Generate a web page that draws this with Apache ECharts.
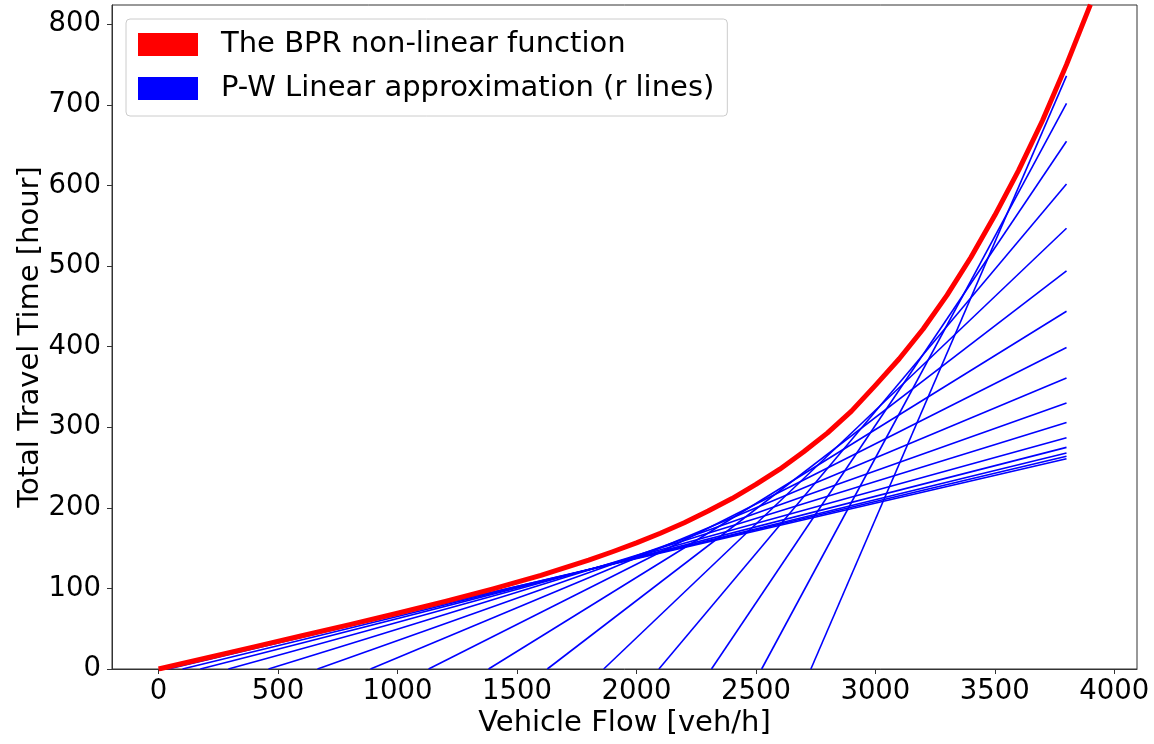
<!DOCTYPE html>
<html>
<head>
<meta charset="utf-8">
<script src="https://cdn.jsdelivr.net/npm/echarts@6/dist/echarts.min.js"></script>
<style>
html,body{margin:0;padding:0;background:#fff;}
#chart{width:1154px;height:744px;}
</style>
</head>
<body>
<div id="chart"></div>
<script>
// BPR non-linear function
const bprX = [0, 200, 400, 600, 800, 1000, 1200, 1400, 1600, 1800, 1900, 2000, 2100, 2200, 2300, 2400, 2500, 2600, 2700, 2800, 2900, 3000, 3100, 3200, 3300, 3400, 3500, 3600, 3700, 3800, 3900];
const bprY = [0, 13.7, 27.4, 41.2, 55, 69.2, 83.9, 99.4, 116.3, 135.1, 145.5, 156.5, 168.5, 181.5, 196, 211.5, 229, 248, 269.5, 293, 320, 352, 385, 422, 464, 511, 563, 619, 681, 750, 824.5];

// P-W linear approximation lines: start on x-axis, end at x = 3800
const lineStartX = [2730, 2524, 2314, 2094, 1863, 1627, 1381, 1130, 887, 665, 460, 292, 175, 100, 41, 12];
const lineEndX = 3800;
const lineEndY = [736, 702, 655, 602, 547, 494, 444, 399, 361, 330, 306, 287, 275, 268, 264, 261];

const xTicks = [0, 500, 1000, 1500, 2000, 2500, 3000, 3500, 4000];
const yTicks = [0, 100, 200, 300, 400, 500, 600, 700, 800];

const redName = 'The BPR non-linear function';
const blueName = 'P-W Linear approximation (r lines)';

const FONT = 'DejaVu Sans';
const chart = echarts.init(document.getElementById('chart'), null, {renderer: 'canvas'});

const series = [];
lineStartX.forEach((x0, i) => {
  series.push({
    name: blueName,
    type: 'line',
    data: [[x0, 0], [lineEndX, lineEndY[i]]],
    showSymbol: false,
    symbol: 'none',
    lineStyle: {color: '#0000ff', width: 1.6},
    itemStyle: {color: '#0000ff'},
    z: 2,
    silent: true,
    animation: false
  });
});
series.push({
  name: redName,
  type: 'line',
  data: bprX.map((x, i) => [x, bprY[i]]),
  smooth: false,
  showSymbol: false,
  symbol: 'none',
  lineStyle: {color: '#ff0000', width: 5, join: 'round', cap: 'butt'},
  itemStyle: {color: '#ff0000'},
  z: 3,
  silent: true,
  animation: false
});

chart.setOption({
  animation: false,
  backgroundColor: '#ffffff',
  grid: {
    left: 112, right: 17, top: 5, bottom: 75,
    outerBoundsMode: 'none',
    containLabel: false,
    show: true, borderColor: '#333333', borderWidth: 1, backgroundColor: 'transparent'
  },
  legend: {
    orient: 'vertical',
    left: 126, top: 19,
    padding: [11, 13, 13, 12],
    itemWidth: 60, itemHeight: 23, itemGap: 15,
    icon: 'rect',
    selectedMode: false,
    backgroundColor: 'rgba(255,255,255,0.8)',
    borderColor: '#cccccc', borderWidth: 1, borderRadius: 4,
    textStyle: {fontSize: 29, fontFamily: FONT, color: '#000', lineHeight: 29, padding: [0, 0, 0, 18]},
    data: [redName, blueName]
  },
  xAxis: {
    type: 'value',
    min: -195, max: 4095,
    name: 'Vehicle Flow [veh/h]',
    nameLocation: 'middle',
    nameGap: 40,
    nameMoveOverlap: false,
    nameTextStyle: {fontSize: 29, fontFamily: FONT, color: '#000'},
    splitLine: {show: false},
    axisLine: {show: true, onZero: false, lineStyle: {color: '#333333', width: 1}},
    axisTick: {show: true, length: 5, inside: false, customValues: xTicks, lineStyle: {color: '#333333'}},
    axisLabel: {customValues: xTicks, formatter: v => String(v), fontSize: 27.5, fontFamily: FONT, color: '#000', margin: 9}
  },
  yAxis: {
    type: 'value',
    min: 0, max: 824,
    name: 'Total Travel Time [hour]',
    nameLocation: 'middle',
    nameGap: 67,
    nameRotate: 90,
    nameMoveOverlap: false,
    nameTextStyle: {fontSize: 29, fontFamily: FONT, color: '#000'},
    splitLine: {show: false},
    axisLine: {show: true, onZero: false, lineStyle: {color: '#333333', width: 1}},
    axisTick: {show: true, length: 5, inside: false, customValues: yTicks, lineStyle: {color: '#333333'}},
    axisLabel: {customValues: yTicks, formatter: v => String(v), fontSize: 27.5, fontFamily: FONT, color: '#000', margin: 11}
  },
  series: series
});
</script>
</body>
</html>
